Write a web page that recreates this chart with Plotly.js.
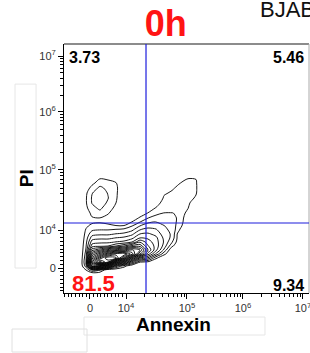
<!DOCTYPE html>
<html>
<head>
<meta charset="utf-8">
<script src="https://cdn.plot.ly/plotly-3.0.1.min.js"></script>
<style>
  html, body { margin: 0; padding: 0; background: #fff; }
  #chart { width: 310px; height: 353px; }
</style>
</head>
<body>
<div id="chart"></div>
<script>
// ---- Data (biexponential display scale: 1 unit ~ 1 decade) ----
// Annexin display positions of grid columns
const annexinGrid = [-0.172, -0.069, 0.034, 0.172, 0.310, 0.448, 0.586, 0.724, 0.862, 1.000, 1.138, 1.276, 1.414, 1.552, 1.690, 1.828, 1.931];
// PI display positions of grid rows
const piGrid = [-0.103, -0.034, 0.034, 0.103, 0.172, 0.241, 0.310, 0.379, 0.448, 0.517, 0.586, 0.655, 0.724, 0.793, 0.862, 0.948, 1.034, 1.121, 1.207, 1.293, 1.379, 1.466, 1.552, 1.638, 1.724];
// Density levels (rows follow piGrid)
const density = [
  [0,0,0,0,0,0,0,0,0,0,0,0,0,0,0,0,0],
  [0,1.0,3,2.2,0,0,0,0,0,0,0,0,0,0,0,0,0],
  [0,2.5,12,11.1,8,3.5,1.4,0,0,0,0,0,0,0,0,0,0],
  [0,3,15,19.5,17,10.4,7.1,3.75,1.02,0.8,0,0,0,0,0,0,0],
  [0,2.7,12.4,16.3,19,18.3,13.5,8.75,5,3.8,1.2,0,0,0,0,0,0],
  [0,2.4,10,12.6,15,16.5,17,14.5,10,6.5,3.8,1.3,0,0,0,0,0],
  [0,2.1,7.6,8.9,10.5,11.4,12,13.2,12,8,5.3,2.8,0,0,0,0,0],
  [0,1.9,5.5,5.75,6,7,8,9.4,9.7,7.1,5.6,3.6,1.2,0,0,0,0],
  [0,1.7,4.5,4.75,4.75,5.05,5.25,6,7.9,6.5,5.45,3.9,2.1,0,0,0,0],
  [0,1.5,3.5,3.75,3.75,4.05,4.25,4.75,6.02,5.83,5.25,3.8,2.7,0,0,0,0],
  [0,1.3,2.6,2.8,2.8,3.05,3.2,3.75,5.02,5.17,4.7,3.5,2.85,0,0,0,0],
  [0,1.1,1.86,2.02,2.02,2.2,2.4,2.8,4.02,4.4,4.15,3.25,2.75,0.9,0,0,0],
  [0,0.8,1.3,1.57,1.2,1.05,1.05,1.98,3.02,3.6,3.55,3.05,2.6,1.3,0,0,0],
  [0,0.4,0.8,0.85,0.8,0.6,0.6,1.02,1.98,2.8,3.02,2.7,2.45,1.6,0,0,0],
  [0,0.2,0.9,0.98,0.7,0.3,0.3,0.6,1.1,1.98,2.45,2.35,2.25,1.8,0,0,0],
  [0,0.35,1.3,1.7,1.1,0.45,0.1,0.3,0.6,1.02,1.67,2.02,2.02,1.9,0.5,0,0],
  [0,0.75,1.7,2.2,1.45,0.75,0,0.1,0.3,0.6,1.05,1.65,1.6,1.85,1.05,0,0],
  [0,0.9,2.05,2.5,1.85,1.0,0,0,0.1,0.3,0.6,1.35,1.4,1.7,1.3,0,0],
  [0,0.9,2.1,2.7,2.05,1.15,0,0,0,0.1,0.2,1.1,1.25,1.5,1.45,0.85,0],
  [0,0.8,1.95,2.5,1.95,1.2,0,0,0,0,0.05,0.9,1.1,1.35,1.5,1.1,0],
  [0,0.45,1.35,2.25,1.7,1.25,0,0,0,0,0,0.5,0.9,1.2,1.45,1.15,0],
  [0,0.1,0.7,1.5,1.3,1.05,0,0,0,0,0,0.2,0.5,0.98,1.3,1.12,0],
  [0,0,0.15,0.9,0.8,0.55,0,0,0,0,0,0,0.2,0.5,0.95,0.95,0],
  [0,0,0,0.3,0.25,0.1,0,0,0,0,0,0,0,0.1,0.4,0.4,0],
  [0,0,0,0,0,0,0,0,0,0,0,0,0,0,0,0,0]
];
// Quadrant gate (display scale)
const gateAnnexin = 0.966;
const gatePI = 0.776;
// Quadrant percentages
const quadLabels = ["3.73", "5.46", "81.5", "9.34"];
// Tick labels and their display positions
const tickText = ["0", "10<sup>4</sup>", "10<sup>5</sup>", "10<sup>6</sup>", "10<sup>7</sup>"];
const xTickPos = [0, 0.621, 1.672, 2.638, 3.672];
const yTickPos = [0, 0.655, 1.690, 2.690, 3.655];

// Minor tick decoration positions derived from the major tick positions
function minorTicks(pos, lo, hi) {
  const out = [];
  const lin = pos[1] / 10;
  for (let v = -lin; v >= lo; v -= lin) out.push(v);
  for (let i = 1; i < 10; i++) out.push(i * lin);
  for (let k = 1; k < pos.length - 1; k++) {
    for (let m = 2; m <= 9; m++) out.push(pos[k] + (pos[k + 1] - pos[k]) * Math.log10(m));
  }
  for (let m = 2; m <= 9; m++) {
    const v = pos[pos.length - 1] + (pos[pos.length - 1] - pos[pos.length - 2]) * Math.log10(m);
    if (v <= hi) out.push(v);
  }
  return out;
}

const FONT = "Liberation Sans, Arial, Helvetica, sans-serif";
const RED = "#ff1414";

const trace = {
  type: "contour",
  x: annexinGrid,
  y: piGrid,
  z: density,
  showscale: false,
  hoverinfo: "skip",
  contours: { coloring: "none", start: 1, end: 19, size: 1 },
  line: { color: "#000", width: 0.9, smoothing: 0.85 }
};

const xr = [-0.448, 3.776];
const yr = [-0.431, 3.862];

function axis(range, tickvals) {
  return {
    range: range,
    tickmode: "array",
    tickvals: tickvals,
    ticktext: tickText,
    ticks: "outside",
    ticklen: 5,
    tickwidth: 1,
    tickcolor: "#000",
    showline: true,
    linecolor: "#000",
    linewidth: 1,
    showgrid: false,
    zeroline: false,
    fixedrange: true,
    ticklabeloverflow: "allow",
    tickfont: { family: FONT, size: 11, color: "#333" },
    minor: {
      tickmode: "array",
      tickvals: minorTicks(tickvals, range[0], range[1]),
      ticks: "outside",
      ticklen: 3,
      tickwidth: 1,
      tickcolor: "#000",
      showgrid: false
    }
  };
}

const layout = {
  width: 310,
  height: 353,
  margin: { l: 64, r: 1, t: 44, b: 60, pad: 0 },
  paper_bgcolor: "#fff",
  plot_bgcolor: "#fff",
  showlegend: false,
  title: {
    text: "<b>0h</b>",
    font: { family: FONT, size: 36, color: RED },
    x: 0.535, xanchor: "center",
    y: 0.933, yanchor: "middle"
  },
  xaxis: axis(xr, xTickPos),
  yaxis: axis(yr, yTickPos),
  shapes: [
    // frame top and right
    { type: "line", xref: "paper", yref: "paper", x0: 0, x1: 1, y0: 1, y1: 1, line: { color: "#666", width: 1.5 } },
    { type: "line", xref: "paper", yref: "paper", x0: 1, x1: 1, y0: 0, y1: 1, line: { color: "#aaa", width: 1 } },
    // quadrant gate
    { type: "line", xref: "x", yref: "paper", x0: gateAnnexin, x1: gateAnnexin, y0: 0, y1: 1, line: { color: "#1c1cdc", width: 1.2 } },
    { type: "line", xref: "paper", yref: "y", x0: 0, x1: 1, y0: gatePI, y1: gatePI, line: { color: "#1c1cdc", width: 1.2 } },
    // faint boxes around labels
    { type: "rect", xref: "paper", yref: "paper", x0: -0.2, x1: -0.114, y0: 0.1004, y1: 0.839, line: { color: "#e6e6e6", width: 1 } },
    { type: "rect", xref: "paper", yref: "paper", x0: 0.0816, x1: 0.8204, y0: -0.1687, y1: -0.0964, line: { color: "#e6e6e6", width: 1 } },
    { type: "rect", xref: "paper", yref: "paper", x0: -0.2122, x1: 0.0939, y0: -0.237, y1: -0.1446, line: { color: "#e0e0e0", width: 1 } }
  ],
  annotations: [
    { text: "<b>" + quadLabels[0] + "</b>", xref: "paper", yref: "paper", x: 0.012, y: 0.944, xanchor: "left", yanchor: "middle", showarrow: false, font: { family: FONT, size: 16, color: "#000" } },
    { text: "<b>" + quadLabels[1] + "</b>", xref: "paper", yref: "paper", x: 0.988, y: 0.944, xanchor: "right", yanchor: "middle", showarrow: false, font: { family: FONT, size: 16, color: "#000" } },
    { text: "<b>" + quadLabels[2] + "</b>", xref: "paper", yref: "paper", x: 0.0245, y: 0.040, xanchor: "left", yanchor: "middle", showarrow: false, font: { family: FONT, size: 22, color: RED } },
    { text: "<b>" + quadLabels[3] + "</b>", xref: "paper", yref: "paper", x: 0.988, y: 0.032, xanchor: "right", yanchor: "middle", showarrow: false, font: { family: FONT, size: 16, color: "#000" } },
    { text: "<b>PI</b>", textangle: -90, xref: "paper", yref: "paper", x: -0.15, y: 0.462, xanchor: "center", yanchor: "middle", showarrow: false, font: { family: FONT, size: 19, color: "#000" } },
    { text: "<b>Annexin</b>", xref: "paper", yref: "paper", x: 0.445, y: -0.1285, xanchor: "center", yanchor: "middle", showarrow: false, font: { family: FONT, size: 19, color: "#000" } },
    { text: "BJAB", xref: "paper", yref: "paper", x: 0.79, y: 1.137, xanchor: "left", yanchor: "middle", showarrow: false, font: { family: FONT, size: 22, color: "#111" } }
  ]
};

Plotly.newPlot("chart", [trace], layout, { displayModeBar: false, staticPlot: true });
</script>
</body>
</html>
